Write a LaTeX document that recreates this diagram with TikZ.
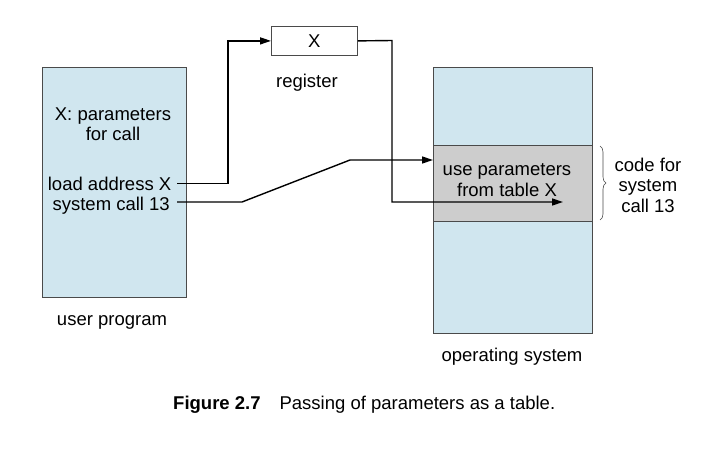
\documentclass[tikz,border=0pt]{standalone}
\usepackage{fontspec}
\setmainfont{Liberation Sans}
\usetikzlibrary{arrows.meta,decorations.pathreplacing}
\definecolor{boxblue}{HTML}{D0E6EF}
\definecolor{bandgray}{HTML}{CDCDCD}
\definecolor{edgegray}{HTML}{4A4A4A}
\tikzset{
  panel/.style={draw=edgegray, line width=0.8pt, inner sep=0pt, anchor=north west},
  conn/.style={line width=1.4pt, -{Triangle[length=11pt,width=7pt]}},
  lbl/.style={inner sep=0pt, align=center},
}
\begin{document}
\begin{tikzpicture}[x=1pt,y=-1pt,font=\fontsize{18.5}{20.5}\selectfont]
\useasboundingbox (0,0) rectangle (712,474);
\fill[white] (0,0) rectangle (712,474);
% boxes
\node[panel, fill=boxblue, minimum width=144pt, minimum height=230pt] (user) at (42,67) {};
\node[panel, fill=white, minimum width=86pt, minimum height=29pt] (reg) at (271,26) {};
\node[lbl] (regx) at (reg.center) {X};
\node[panel, fill=boxblue, minimum width=159pt, minimum height=266pt] (os) at (433,67) {};
\node[panel, fill=bandgray, minimum width=159pt, minimum height=76pt] (band) at (433,145) {};
% texts
\node[lbl, anchor=base, font=\fontsize{18.5}{19.5}\selectfont] (xparam) at (113,140) {X: parameters\\for call};
\node[lbl, anchor=base east] (la) at (171.5,190) {load address X};
\node[lbl, anchor=base east] (sc) at (170,210.5) {system call 13};
\node[lbl, anchor=base] (reglbl) at (307,87) {register};
\node[lbl, anchor=base] (uselbl) at (507,196) {use parameters\\from table X};
\node[lbl, anchor=base] (codelbl) at (648,212) {code for\\system\\call 13};
\node[lbl, anchor=base] (userlbl) at (112,325) {user program};
\node[lbl, anchor=base] (oslbl) at (512,361) {operating system};
\node[lbl, anchor=base west] (cap) at (173,409) {\textbf{Figure 2.7}\hspace{19pt}Passing of parameters as a table.};
% connectors
\coordinate (laout) at (177,183.5);
\coordinate (scout) at (177,202);
\coordinate (bend1) at (242,202);
\coordinate (bend2) at (350,160);
\coordinate (tabx) at (563,202);
\draw[conn] (laout) -- (228,183.5) |- (reg.west);
\draw[conn] (scout) -- (bend1) -- (bend2) -- (band.west |- bend2);
\draw[conn] (reg.east) -- (392,40.5) |- (tabx);
% brace
\draw[line width=0.6pt, draw=edgegray, decorate, decoration={brace, amplitude=6pt}] (600,146) -- (600,220);
\end{tikzpicture}
\end{document}
